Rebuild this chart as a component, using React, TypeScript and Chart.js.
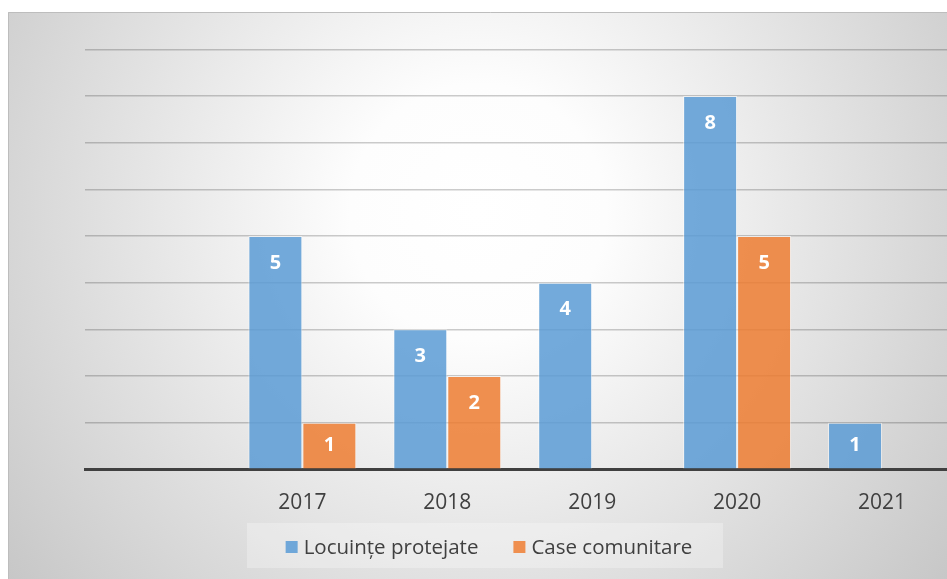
import React, { useEffect, useRef } from "react";
import { Chart, registerables } from "chart.js";

Chart.register(...registerables);

const categories = ["", "2017", "2018", "2019", "2020", "2021"];
const seriesNames = ["Locuințe protejate", "Case comunitare"];
const locuinteProtejate = [null, 5, 3, 4, 8, 1];
const caseComunitare = [null, 1, 2, null, 5, null];
const seriesColors = ["rgba(91,155,213,0.85)", "rgba(237,125,49,0.85)"];
const legendColors = ["#6fa7d9", "#ef8f4f"];
const yMax = 9;

const FONT = "'Open Sans', 'Noto Sans', sans-serif";

const bgPlugin = {
  id: "bgPlugin",
  beforeDraw(chart: any) {
    const { ctx, width, height } = chart;
    ctx.save();
    const g = ctx.createRadialGradient(470, 200, 0, 470, 200, 640);
    g.addColorStop(0, "#ffffff");
    g.addColorStop(0.2, "#fdfdfd");
    g.addColorStop(1, "#c2c2c2");
    ctx.fillStyle = g;
    ctx.fillRect(0, 0, width, height);
    ctx.strokeStyle = "#bdbdbd";
    ctx.lineWidth = 1;
    ctx.beginPath();
    ctx.moveTo(0.5, height);
    ctx.lineTo(0.5, 0.5);
    ctx.lineTo(width, 0.5);
    ctx.stroke();
    ctx.restore();
  },
  afterDraw(chart: any) {
    const { ctx } = chart;
    ctx.save();
    // data labels
    ctx.fillStyle = "#ffffff";
    ctx.font = `bold 20px ${FONT}`;
    ctx.textAlign = "center";
    ctx.textBaseline = "middle";
    chart.data.datasets.forEach((ds: any, di: number) => {
      const meta = chart.getDatasetMeta(di);
      meta.data.forEach((el: any, i: number) => {
        const v = ds.data[i];
        if (v === null || v === undefined || v <= 0) return;
        const h = el.base - el.y;
        ctx.fillText(String(v), el.x, el.y + Math.min(27, h / 2));
      });
    });
    // legend
    ctx.fillStyle = "rgba(255,255,255,0.28)";
    ctx.fillRect(239, 511, 476, 45);
    ctx.font = `20.5px ${FONT}`;
    ctx.textAlign = "left";
    const box = 12;
    const gapText = 6;
    const gapItem = 35;
    const widths = seriesNames.map((n) => ctx.measureText(n).width);
    let total = 0;
    widths.forEach((w, i) => {
      total += box + gapText + w + (i < widths.length - 1 ? gapItem : 0);
    });
    let x = 481 - total / 2;
    const cy = 535;
    seriesNames.forEach((n, i) => {
      ctx.fillStyle = legendColors[i];
      ctx.fillRect(x, cy - box / 2, box, box);
      ctx.fillStyle = "#404040";
      ctx.fillText(n, x + box + gapText, cy + 1);
      x += box + gapText + widths[i] + gapItem;
    });
    ctx.restore();
  },
};

export default function App() {
  const ref = useRef<HTMLCanvasElement | null>(null);
  useEffect(() => {
    if (!ref.current) return;
    const chart = new Chart(ref.current, {
      type: "bar",
      data: {
        labels: categories,
        datasets: [
          {
            label: seriesNames[0],
            data: locuinteProtejate,
            backgroundColor: seriesColors[0],
            borderColor: "rgba(255,255,255,0.55)",
            borderWidth: 1,
            categoryPercentage: 0.745,
            barPercentage: 1,
          },
          {
            label: seriesNames[1],
            data: caseComunitare,
            backgroundColor: seriesColors[1],
            borderColor: "rgba(255,255,255,0.55)",
            borderWidth: 1,
            categoryPercentage: 0.745,
            barPercentage: 1,
          },
        ],
      },
      options: {
        animation: false,
        responsive: false,
        layout: { padding: { left: 77, right: 17.5, top: 37.3, bottom: 0 } },
        plugins: {
          legend: { display: false },
          tooltip: { enabled: false },
        },
        scales: {
          x: {
            grid: { display: false, drawTicks: false },
            border: { color: "#404040", width: 3 },
            ticks: {
              color: "#404040",
              font: { family: FONT, size: 21 },
              padding: 21,
            },
            afterFit: (s: any) => {
              s.height = 567 - 457.3;
            },
          },
          y: {
            min: 0,
            max: yMax,
            ticks: { display: false, stepSize: 1 },
            grid: {
              color: "rgba(0,0,0,0.2)",
              lineWidth: 1.5,
              drawTicks: false,
            },
            border: { display: false },
            afterFit: (s: any) => {
              s.width = 0;
            },
          },
        },
      },
      plugins: [bgPlugin],
    });
    return () => chart.destroy();
  }, []);
  return (
    <div style={{ position: "fixed", left: 0, top: 0, width: 947, height: 579, overflow: "hidden", background: "#fff" }}>
      <div style={{ position: "absolute", left: 8, top: 12, width: 964, height: 567 }}>
        <canvas ref={ref} width={964} height={567} style={{ width: 964, height: 567, display: "block" }} />
      </div>
    </div>
  );
}
